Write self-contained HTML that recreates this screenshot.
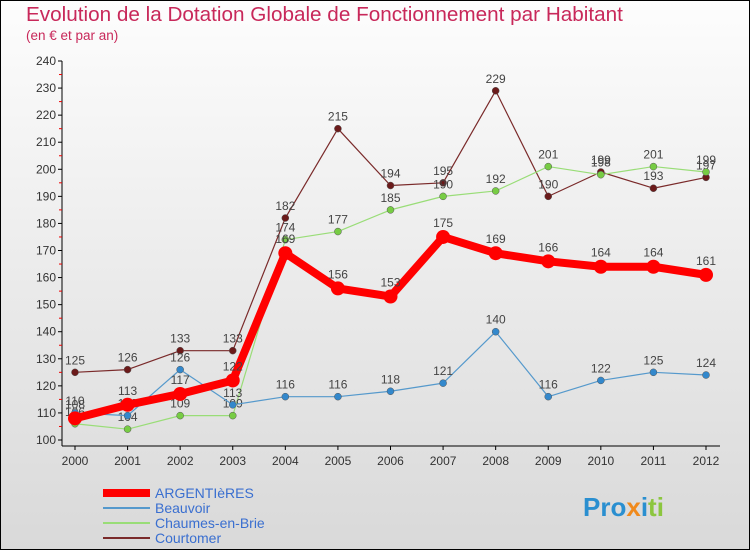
<!DOCTYPE html>
<html><head><meta charset="utf-8"><style>
html,body{margin:0;padding:0}
body{width:750px;height:550px;overflow:hidden;font-family:"Liberation Sans",sans-serif}
</style></head><body>
<svg id="c" width="750" height="550" xmlns="http://www.w3.org/2000/svg">
<defs><linearGradient id="bg" x1="0" y1="0" x2="0" y2="1"><stop offset="0" stop-color="#fdfdfd"/><stop offset="1" stop-color="#d9d9d9"/></linearGradient></defs>
<rect x="0.5" y="0.5" width="749" height="549" fill="url(#bg)" stroke="#000"/>
<text x="26" y="21" font-size="20.7" fill="#c8285a">Evolution de la Dotation Globale de Fonctionnement par Habitant</text>
<text x="26" y="40" font-size="13.5" fill="#c8285a">(en € et par an)</text>
<g id="axes"></g><g id="series"></g><g id="legend"></g>
<text x="583" y="516" font-size="26" font-weight="bold" fill="#2a8fd0">Pro<tspan fill="#f08a1c">x</tspan><tspan fill="#2a8fd0">i</tspan><tspan fill="#8cc63f">ti</tspan></text>
</svg>
<script>
const years=[2000,2001,2002,2003,2004,2005,2006,2007,2008,2009,2010,2011,2012];
const yTicks=[100,110,120,130,140,150,160,170,180,190,200,210,220,230,240];
const argentieres=[108,113,117,122,169,156,153,175,169,166,164,164,161];
const beauvoir=[110,109,126,113,116,116,118,121,140,116,122,125,124];
const chaumes=[106,104,109,109,174,177,185,190,192,201,198,201,199];
const courtomer=[125,126,133,133,182,215,194,195,229,190,199,193,197];
const NS="http://www.w3.org/2000/svg";
function X(i){return 75+i*(706-75)/12;}
function Y(v){return 440-(v-100)*(379/140);}
function mk(t,a,p){const e=document.createElementNS(NS,t);for(const k in a)e.setAttribute(k,a[k]);(p||document.getElementById('axes')).appendChild(e);return e;}
const ax=document.getElementById('axes');
let l=mk('line',{x1:62,y1:61,x2:62,y2:446,stroke:'#000'});


l=mk('line',{x1:62,y1:446,x2:720,y2:446,stroke:'#000'});


yTicks.forEach(v=>{mk('line',{x1:58,y1:Y(v),x2:62,y2:Y(v),stroke:'#000'});
 const t=mk('text',{x:56,y:Y(v)+4,'font-size':12,'text-anchor':'end',fill:'#333'});t.textContent=v;
 
 
 if(v<240)mk('line',{x1:59,y1:Y(v+5),x2:62,y2:Y(v+5),stroke:'#e00'});});
years.forEach((y,i)=>{mk('line',{x1:X(i),y1:446,x2:X(i),y2:450,stroke:'#000'});
 const t=mk('text',{x:X(i),y:465,'font-size':12,'text-anchor':'middle',fill:'#333'});t.textContent=y;
 
 });
const sg=document.getElementById('series');
function series(d,col,dot,w,r,name,fs){
 const g=mk('g',{},sg);
 
 
 mk('polyline',{points:d.map((v,i)=>X(i)+','+Y(v)).join(' '),fill:'none',stroke:col,'stroke-width':w,'stroke-linejoin':'round'},g);
 d.forEach((v,i)=>{const c=mk('circle',{cx:X(i),cy:Y(v),r:r,fill:dot,stroke:w>2?'none':'#555','stroke-width':0.5},g);
  
  
  const t=mk('text',{x:X(i),y:Y(v)-(w>2?10:8),'font-size':fs,'text-anchor':'middle',fill:'#444'},g);t.textContent=v;
  
  });
}
series(courtomer,'#7a2a2a','#6b1a1a',1.2,3.5,'courtomer',12);
series(chaumes,'#99dd77','#77cc44',1.2,3.5,'chaumes',12);
series(beauvoir,'#5599cc','#3388cc',1.2,3.5,'beauvoir',12);
series(argentieres,'#ff0000','#ff0000',8,7,'argentieres',12);
const lg=document.getElementById('legend');
[['ARGENTIèRES','#ff0000',8],['Beauvoir','#5599cc',2],['Chaumes-en-Brie','#99dd77',2],['Courtomer','#7a2a2a',2]].forEach((e,i)=>{
 const y=493+i*15;
 const ln=mk('line',{x1:103,y1:y,x2:150,y2:y,stroke:e[1],'stroke-width':e[2]},lg);
 
 
 const t=mk('text',{x:155,y:y+5,'font-size':14,fill:'#3a6fd0'},lg);t.textContent=e[0];
 
 
});
</script>
</body></html>
